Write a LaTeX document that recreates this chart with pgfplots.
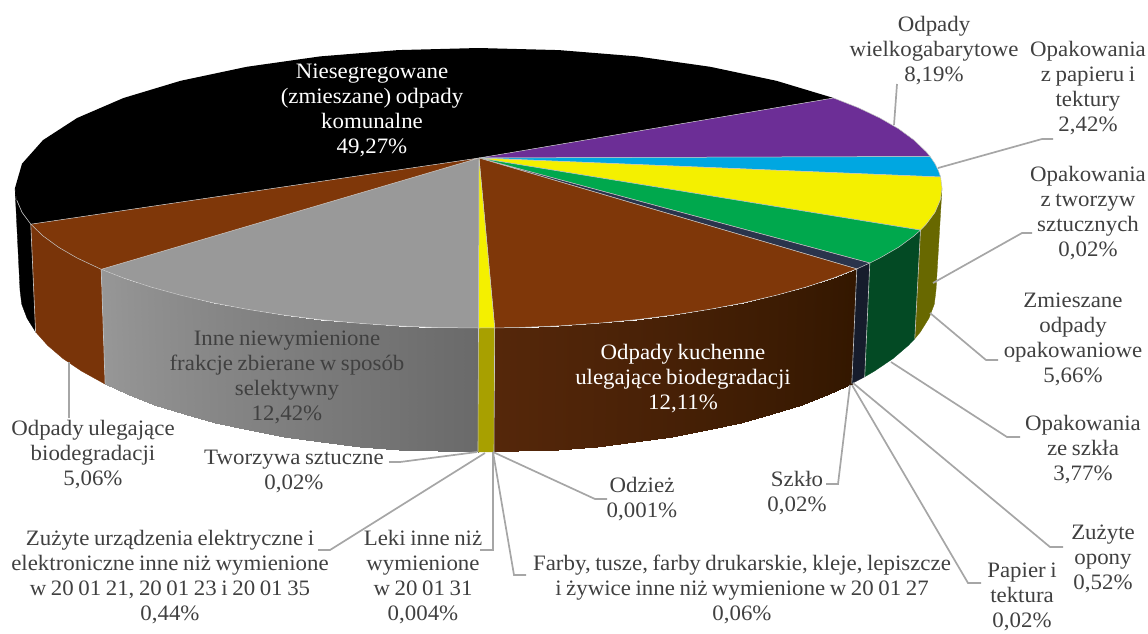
\documentclass[border=0pt]{standalone}
\usepackage{fontspec}
\setmainfont{Liberation Serif}[FakeStretch=1.04,WordSpace=0.8]
\usepackage{pgfplots}
\pgfplotsset{compat=1.18}
\definecolor{edge}{HTML}{C4C4C4}
\definecolor{lead}{HTML}{A6A6A6}
\definecolor{lab}{HTML}{404040}
\definecolor{gA}{HTML}{979797}
\definecolor{gB}{HTML}{6A6A6A}
\definecolor{bA}{HTML}{55270A}
\definecolor{bB}{HTML}{331700}
\definecolor{brownT}{HTML}{7F3709}
\definecolor{purpleT}{HTML}{6C2E96}
\definecolor{blueT}{HTML}{00A7E1}
\definecolor{yellowT}{HTML}{F4F000}
\definecolor{greenT}{HTML}{00A84D}
\definecolor{darkT}{HTML}{2A344C}
\definecolor{grayT}{HTML}{999999}
\definecolor{darkW}{HTML}{161C2C}
\definecolor{greenW}{HTML}{034A24}
\definecolor{oliveW}{HTML}{686800}
\definecolor{yellowW}{HTML}{A8A000}
\tikzset{lbl/.style={align=center, text=lab, font=\fontsize{22}{25}\selectfont, anchor=center, inner sep=0pt, yshift=-2pt}}
\begin{document}
\begin{tikzpicture}
\useasboundingbox (0,0) rectangle (1148pt,633pt);
\begin{axis}[
  at={(0,0)}, anchor=south west,
  scale only axis, width=1148pt, height=633pt,
  xmin=0, xmax=1148, ymin=0, ymax=633, y dir=reverse,
  axis lines=none, clip=true,
  colormap={wallmap}{color(0)=(gA) color(1)=(gB) color(2)=(bA) color(3)=(bB)},
  point meta min=0, point meta max=3,
  wall/.style={fill=#1, draw=#1, line width=.3pt, mark=none, forget plot},
  face/.style={fill=#1, draw=edge, line width=.5pt, mark=none, forget plot},
  eline/.style={draw=edge, line width=.6pt, mark=none, forget plot},
  lline/.style={draw=lead, line width=1.7pt, mark=none, forget plot},
  grad/.style={patch, patch type=rectangle, shader=interp, point meta=explicit, forget plot},
]
% side walls
\addplot[wall=black] coordinates {(30.8,224.2)(22,212.3)(16.8,200.2)(15,188)(20,290)(21.7,304.1)(27,318.1)(35.6,331.9)(30.8,224.2)};
\addplot[wall=brownT!95!black] coordinates {(101.2,269.3)(77.1,258)(58.5,247.2)(43,235.9)(30.8,224.2)(35.6,331.9)(47.6,345.4)(62.9,358.5)(81.4,371)(105.1,384.1)(101.2,269.3)};
% grey wall
\addplot[grad] coordinates {
(101.2,269.3) [0.00] (123.5,278) [0.09] (127.2,394.1) [0.09] (105.1,384.1) [0.00]
(123.5,278) [0.09] (150.8,287) [0.18] (154.1,404.6) [0.18] (127.2,394.1) [0.09]
(150.8,287) [0.18] (180.6,295.2) [0.27] (183.6,414.1) [0.27] (154.1,404.6) [0.18]
(180.6,295.2) [0.27] (212.6,302.7) [0.36] (215.3,422.7) [0.36] (183.6,414.1) [0.27]
(212.6,302.7) [0.36] (246.7,309.2) [0.45] (249,430.3) [0.45] (215.3,422.7) [0.36]
(246.7,309.2) [0.45] (282.6,314.9) [0.54] (284.4,436.8) [0.54] (249,430.3) [0.45]
(282.6,314.9) [0.54] (320,319.6) [0.63] (321.4,442.2) [0.63] (284.4,436.8) [0.54]
(320,319.6) [0.63] (358.5,323.2) [0.72] (359.5,446.5) [0.72] (321.4,442.2) [0.63]
(358.5,323.2) [0.72] (398,325.9) [0.81] (398.5,449.5) [0.81] (359.5,446.5) [0.72]
(398,325.9) [0.81] (438.1,327.5) [0.91] (438.1,451.4) [0.91] (398.5,449.5) [0.81]
(438.1,327.5) [0.91] (478.5,328) [1.00] (478,452) [1.00] (438.1,451.4) [0.91]
};
% small yellow
\addplot[wall=yellowW] coordinates {(478.5,328)(494.7,327.9)(494,451.9)(478,452)(478.5,328)};
% brown wall
\addplot[grad] coordinates {
(494.7,327.9) [2.00] (518.9,327.5) [2.05] (517.9,451.4) [2.05] (494,451.9) [2.00]
(518.9,327.5) [2.05] (559,325.9) [2.14] (557.5,449.5) [2.14] (517.9,451.4) [2.05]
(559,325.9) [2.14] (598.5,323.2) [2.23] (596.5,446.5) [2.23] (557.5,449.5) [2.14]
(598.5,323.2) [2.23] (637,319.6) [2.33] (634.6,442.2) [2.33] (596.5,446.5) [2.23]
(637,319.6) [2.33] (674.4,314.9) [2.42] (671.6,436.8) [2.42] (634.6,442.2) [2.33]
(674.4,314.9) [2.42] (710.3,309.2) [2.52] (707,430.3) [2.52] (671.6,436.8) [2.42]
(710.3,309.2) [2.52] (744.4,302.7) [2.62] (740.7,422.7) [2.62] (707,430.3) [2.52]
(744.4,302.7) [2.62] (776.4,295.2) [2.71] (772.4,414.1) [2.71] (740.7,422.7) [2.62]
(776.4,295.2) [2.71] (806.2,287) [2.81] (801.9,404.6) [2.81] (772.4,414.1) [2.71]
(806.2,287) [2.81] (833.5,278) [2.91] (828.8,394.1) [2.91] (801.9,404.6) [2.81]
(833.5,278) [2.91] (856.8,268.9) [3.00] (851.8,383.6) [3.00] (828.8,394.1) [2.91]
};
% dark, green and olive walls
\addplot[wall=darkW] coordinates {(856.8,268.9)(869.8,263)(864.7,376.8)(851.8,383.6)(856.8,268.9)};
\addplot[wall=greenW] coordinates {(869.8,263)(879.9,258)(898.6,247.2)(914,235.9)(920.5,230.1)(914.8,338.7)(908.4,345.4)(893.1,358.5)(874.6,371)(864.7,376.8)(869.8,263)};
\addplot[wall=oliveW] coordinates {(920.5,230.1)(926.2,224.2)(935,212.3)(940.2,200.2)(942,188)(936,290)(934.3,304.1)(929,318.1)(920.4,331.9)(914.8,338.7)(920.5,230.1)};
% vertical edges of the walls
\addplot[eline] coordinates {(101.2,269.3)(105.1,384.1)};
\addplot[eline] coordinates {(478.5,328)(478,452)};
\addplot[eline] coordinates {(494.7,327.9)(494,451.9)};
\addplot[eline] coordinates {(856.8,268.9)(851.8,383.6)};
\addplot[eline] coordinates {(869.8,263)(864.7,376.8)};
\addplot[eline] coordinates {(920.5,230.1)(914.8,338.7)};
\addplot[eline] coordinates {(30.8,224.2)(35.6,331.9)};
% top faces
\addplot[fill=black, draw=none, mark=none, forget plot] coordinates {(479,158)(30.8,224.2)(22,212.3)(16.8,200.2)(15,188)(22,163.7)(43,140.1)(77.1,118)(123.5,98)(180.6,80.8)(246.7,66.8)(320,56.4)(398,50.1)(478.5,48)(559,50.1)(637,56.4)(710.3,66.8)(776.4,80.8)(833.5,98)(479,158)};
\addplot[eline] coordinates {(30.8,224.2)(22,212.3)(16.8,200.2)};
\addplot[face=purpleT] coordinates {(479,158)(833.5,98)(858.2,107.7)(879.9,118)(898.6,128.8)(914,140.1)(926.2,151.8)(930.1,156.5)(479,158)};
\addplot[face=blueT] coordinates {(479,158)(930.1,156.5)(935,163.7)(938.5,170.9)(940.6,177)(479,158)};
\addplot[face=yellowT] coordinates {(479,158)(940.6,177)(942,188)(940.2,200.2)(935,212.3)(926.2,224.2)(920.5,230.1)(479,158)};
\addplot[face=greenT] coordinates {(479,158)(920.5,230.1)(914,235.9)(898.6,247.2)(879.9,258)(869.8,263)(479,158)};
\addplot[face=darkT] coordinates {(479,158)(869.8,263)(856.8,268.9)(479,158)};
\addplot[face=brownT] coordinates {(479,158)(856.8,268.9)(833.5,278)(806.2,287)(776.4,295.2)(744.4,302.7)(710.3,309.2)(674.4,314.9)(637,319.6)(598.5,323.2)(559,325.9)(518.9,327.5)(494.7,327.9)(479,158)};
\addplot[face=yellowT] coordinates {(479,158)(494.7,327.9)(478.5,328)(479,158)};
\addplot[face=grayT] coordinates {(479,158)(478.5,328)(438.1,327.5)(398,325.9)(358.5,323.2)(320,319.6)(282.6,314.9)(246.7,309.2)(212.6,302.7)(180.6,295.2)(150.8,287)(123.5,278)(101.2,269.3)(479,158)};
\addplot[face=brownT] coordinates {(479,158)(101.2,269.3)(77.1,258)(58.5,247.2)(43,235.9)(30.8,224.2)(479,158)};
% leader lines
\addplot[lline] coordinates {(894,125)(897,84)};
\addplot[lline] coordinates {(938,168)(1042,139)(1053,139)};
\addplot[lline] coordinates {(933,283)(1022,233)(1032,233)};
\addplot[lline] coordinates {(930,313)(986,360)(998,360)};
\addplot[lline] coordinates {(891,362)(1007,437)(1020,437)};
\addplot[lline] coordinates {(853,383)(1050,547)(1063,547)};
\addplot[lline] coordinates {(852,385)(968,583)(981,583)};
\addplot[lline] coordinates {(850,385)(838,484)(826,484)};
\addplot[lline] coordinates {(493,452)(595,499)(607,499)};
\addplot[lline] coordinates {(493,452)(514,575)(526,575)};
\addplot[lline] coordinates {(493,452)(493,550)(480,550)};
\addplot[lline] coordinates {(485,453)(330,550)(318,550)};
\addplot[lline] coordinates {(477,452)(400,462)(389,462)};
\addplot[lline] coordinates {(69,362)(69,418)};
% labels
\node[lbl] at (axis cs:934,49) {Odpady\\wielkogabarytowe\\8,19\%};
\node[lbl] at (axis cs:1088,86) {Opakowania\\z papieru i\\tektury\\2,42\%};
\node[lbl] at (axis cs:1088,211) {Opakowania\\z tworzyw\\sztucznych\\0,02\%};
\node[lbl] at (axis cs:1073,337) {Zmieszane\\odpady\\opakowaniowe\\5,66\%};
\node[lbl] at (axis cs:1083,448) {Opakowania\\ze szkła\\3,77\%};
\node[lbl] at (axis cs:1103,557) {Zużyte\\opony\\0,52\%};
\node[lbl] at (axis cs:1022,595) {Papier i\\tektura\\0,02\%};
\node[lbl] at (axis cs:797,491) {Szkło\\0,02\%};
\node[lbl] at (axis cs:642,497) {Odzież\\0,001\%};
\node[lbl] at (axis cs:742,587) {Farby, tusze, farby drukarskie, kleje, lepiszcze\\i żywice inne niż wymienione w 20 01 27\\0,06\%};
\node[lbl] at (axis cs:423,575) {Leki inne niż\\wymienione\\w 20 01 31\\0,004\%};
\node[lbl] at (axis cs:170,575) {Zużyte urządzenia elektryczne i\\elektroniczne inne niż wymienione\\w 20 01 21, 20 01 23 i 20 01 35\\0,44\%};
\node[lbl] at (axis cs:294,469) {Tworzywa sztuczne\\0,02\%};
\node[lbl] at (axis cs:93,453) {Odpady ulegające\\biodegradacji\\5,06\%};
\node[lbl] at (axis cs:287,375) {Inne niewymienione\\frakcje zbierane w sposób\\selektywny\\12,42\%};
\node[lbl,text=white] at (axis cs:683,377) {Odpady kuchenne\\ulegające biodegradacji\\12,11\%};
\node[lbl,text=white] at (axis cs:372,108) {Niesegregowane\\(zmieszane) odpady\\komunalne\\49,27\%};
\end{axis}
\end{tikzpicture}
\end{document}
